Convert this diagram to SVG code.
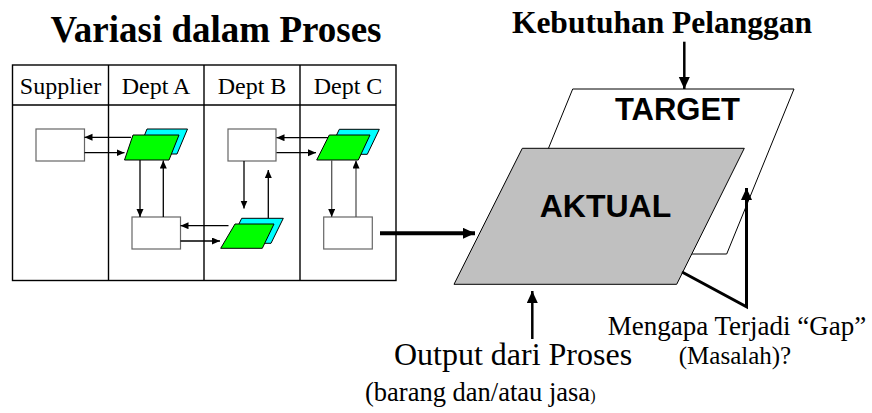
<svg xmlns="http://www.w3.org/2000/svg" width="872" height="413" viewBox="0 0 872 413">
<style>
.serif{font-family:"Liberation Serif","Times New Roman",serif;fill:#000}
.sans{font-family:"Liberation Sans",Arial,sans-serif;font-weight:bold;fill:#000}
.grid{stroke:#000;stroke-width:1.4;fill:none}
.box{fill:#fff;stroke:#666;stroke-width:1.2}
.green{fill:#00ff00;stroke:#000;stroke-width:1}
.cyan{fill:#00ffff;stroke:#000;stroke-width:1}
.sa{stroke:#000;stroke-width:1.3;fill:none;marker-end:url(#sm)}
.sag{stroke:#555;stroke-width:1.3;fill:none;marker-end:url(#sm)}
.ba{stroke:#000;fill:none;marker-end:url(#big)}
</style>
<defs>
<marker id="sm" markerUnits="userSpaceOnUse" markerWidth="9" markerHeight="8" refX="8" refY="3.5" orient="auto">
<path d="M0,0 L8,3.5 L0,7 z" fill="#000"/>
</marker>
<marker id="big" markerUnits="userSpaceOnUse" markerWidth="13" markerHeight="12" refX="12" refY="5.5" orient="auto">
<path d="M0,0 L12,5.5 L0,11 z" fill="#000"/>
</marker>
</defs>

<g id="title">
<text class="serif" x="216" y="42" font-size="37" font-weight="bold" text-anchor="middle">Variasi dalam Proses</text>
</g>

<g id="swimlane">
<rect x="12.5" y="65" width="383.5" height="215.5" class="grid"/>
<line x1="12.5" y1="105" x2="396" y2="105" class="grid"/>
<line x1="108.5" y1="65" x2="108.5" y2="280.5" class="grid"/>
<line x1="204" y1="65" x2="204" y2="280.5" class="grid"/>
<line x1="300" y1="65" x2="300" y2="280.5" class="grid"/>
<text class="serif" x="60.5" y="94" font-size="24" text-anchor="middle">Supplier</text>
<text class="serif" x="156" y="94" font-size="24" text-anchor="middle">Dept A</text>
<text class="serif" x="252" y="94" font-size="24" text-anchor="middle">Dept B</text>
<text class="serif" x="348" y="94" font-size="24" text-anchor="middle">Dept C</text>
</g>

<g id="supplier-box"><rect x="36" y="129" width="48.5" height="32" class="box"/></g>
<g id="deptA-doc">
<polygon points="147,129 187.5,129 177,154 137,154" class="cyan"/>
<polygon points="133,135 179,135 169,160 124.5,160" class="green"/>
</g>
<g id="deptA-box"><rect x="132" y="217" width="48.5" height="32" class="box"/></g>
<g id="deptB-box"><rect x="228" y="129" width="48" height="32" class="box"/></g>
<g id="deptB-doc">
<polygon points="241.7,218.3 283.3,218.3 271,243.3 229.5,243.3" class="cyan"/>
<polygon points="235,224 274,224 262.3,248.3 220.7,248.3" class="green"/>
</g>
<g id="deptC-doc">
<polygon points="339.3,129.3 379.3,129.3 367.3,154.3 327.3,154.3" class="cyan"/>
<polygon points="329.3,135 370,135 358.3,160 316.7,160" class="green"/>
</g>
<g id="deptC-box"><rect x="323.7" y="217" width="48.6" height="32" class="box"/></g>

<g id="target">
<polygon points="572.7,89 794,89 726.7,254 505.3,254" fill="#fff" stroke="#000" stroke-width="1"/>
<text class="sans" x="677.5" y="120" font-size="31" text-anchor="middle">TARGET</text>
</g>
<g id="aktual">
<polygon points="522.3,148.3 744.3,148.3 676.7,284.3 454,284.3" fill="#c0c0c0" stroke="#000" stroke-width="1"/>
<text class="sans" x="605.5" y="217" font-size="32" text-anchor="middle">AKTUAL</text>
</g>

<g id="labels">
<text class="serif" x="662" y="33" font-size="31.5" font-weight="bold" text-anchor="middle">Kebutuhan Pelanggan</text>
<text class="serif" x="513" y="365" font-size="32" text-anchor="middle">Output dari Proses</text>
<text class="serif" x="365" y="401" font-size="26.5">(barang dan/atau jasa<tspan font-size="16">)</tspan></text>
<text class="serif" x="737" y="335" font-size="27" text-anchor="middle">Mengapa Terjadi “Gap”</text>
<text class="serif" x="735" y="364" font-size="25" text-anchor="middle">(Masalah)?</text>
</g>

<g id="connectors">
<line x1="131" y1="137.3" x2="84.5" y2="137.3" class="sa"/>
<line x1="84.5" y1="152.7" x2="124.5" y2="152.7" class="sa"/>
<line x1="140" y1="160" x2="140" y2="217" class="sa"/>
<line x1="163.3" y1="217" x2="163.3" y2="160.5" class="sa"/>
<line x1="228.5" y1="225.7" x2="180.5" y2="225.7" class="sa"/>
<line x1="180.5" y1="241" x2="220" y2="241" class="sa"/>
<line x1="244" y1="161" x2="244" y2="208.5" class="sa"/>
<line x1="268.3" y1="218.3" x2="268.3" y2="170" class="sa"/>
<line x1="328" y1="137.7" x2="276.5" y2="137.7" class="sa"/>
<line x1="276.5" y1="152.7" x2="316" y2="152.7" class="sa"/>
<line x1="331.7" y1="160" x2="331.7" y2="217" class="sag"/>
<line x1="356" y1="217" x2="356" y2="160.5" class="sag"/>
<line x1="380" y1="233.3" x2="475" y2="233.3" class="ba" stroke-width="4"/>
<line x1="684.3" y1="41.7" x2="684.3" y2="89" class="ba" stroke-width="2.5"/>
<line x1="532.3" y1="339" x2="532.3" y2="291" class="ba" stroke-width="2.5"/>
<polyline points="682,272 746.5,306.7 746.5,188" class="ba" stroke-width="3"/>
</g>
</svg>
